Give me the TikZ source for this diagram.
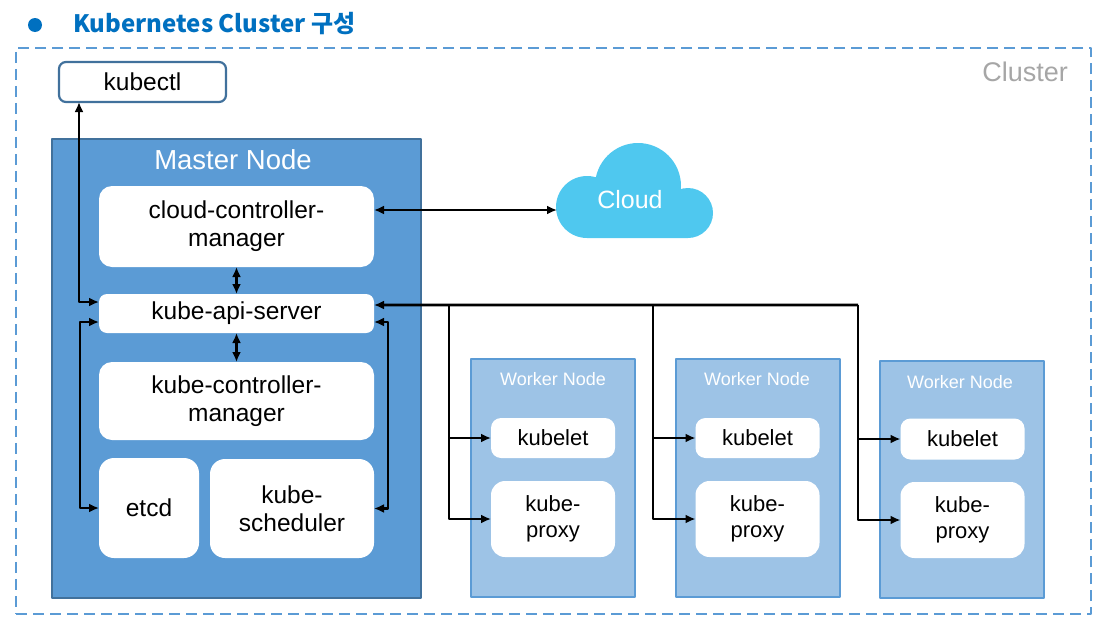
\documentclass[tikz,border=0pt]{standalone}
\usepackage{fontspec}
\usetikzlibrary{arrows.meta}
\setmainfont{Liberation Sans}
\newfontfamily\krfont{Noto Sans CJK KR}
\definecolor{titleblue}{HTML}{0070C0}
\definecolor{clusterline}{HTML}{5B9BD5}
\definecolor{clustertext}{HTML}{A6A6A6}
\definecolor{masterfill}{HTML}{5B9BD5}
\definecolor{masterline}{HTML}{41719C}
\definecolor{workerfill}{HTML}{9DC3E6}
\definecolor{workerline}{HTML}{5B9BD5}
\definecolor{cloudfill}{HTML}{4FC8EF}
\begin{document}
\begin{tikzpicture}[>={Latex[length=10bp,width=9bp]},line join=bevel,
  box/.style={fill=white,draw=none,rounded corners=10bp,inner sep=0pt,outer sep=0pt,align=center,font=\fontsize{24.5bp}{28bp}\selectfont},
  wbox/.style={box,font=\fontsize{22bp}{26bp}\selectfont},
  worker/.style={fill=workerfill,draw=workerline,line width=2.5bp,inner sep=0pt,outer sep=0pt,minimum width=164bp,minimum height=238bp},
  wtitle/.style={text=white,font=\fontsize{18bp}{20bp}\selectfont},
  link/.style={black,line width=2.6bp},
]
\useasboundingbox (0bp,0bp) rectangle (1103bp,-626bp);
%%
\fill[titleblue] (35bp,-25bp) circle (7bp);
\node (node_title) at (73bp,-24bp) [anchor=west,inner sep=0pt,text=titleblue,font=\krfont\bfseries\fontsize{24bp}{28bp}\selectfont] {Kubernetes Cluster 구성};
\node (node_cluster) at (553.5bp,-331bp) [draw=clusterline,line width=2.2bp,dash pattern=on 11bp off 6bp,minimum width=1075bp,minimum height=566bp,inner sep=0pt] {};
\node (node_cluster_title) at (1068bp,-72bp) [anchor=east,inner sep=0pt,text=clustertext,font=\fontsize{27bp}{30bp}\selectfont] {Cluster};
\node (node_kubectl) at (142.5bp,-82bp) [box,draw=masterline,line width=2.2bp,rounded corners=7bp,minimum width=167bp,minimum height=40bp] {kubectl};
%
\node (node_master) at (236.5bp,-368.5bp) [fill=masterfill,draw=masterline,line width=2.2bp,minimum width=369bp,minimum height=459bp,inner sep=0pt,outer sep=0pt] {};
\node (node_master_title) at (233bp,-160bp) [text=white,font=\fontsize{27.5bp}{30bp}\selectfont] {Master Node};
\node (node_ccm) at (236.5bp,-226.5bp) [box,rounded corners=13bp,minimum width=275bp,minimum height=81bp] {cloud-controller-\\manager};
\node (node_api) at (236.5bp,-313.5bp) [box,rounded corners=8bp,minimum width=275bp,minimum height=39bp] {kube-api-server};
\node (node_kcm) at (236.5bp,-401bp) [box,rounded corners=13bp,minimum width=275bp,minimum height=78bp] {kube-controller-\\manager};
\node (node_etcd) at (149bp,-508bp) [box,rounded corners=15bp,minimum width=100bp,minimum height=100bp] {etcd};
\node (node_sched) at (292bp,-508.5bp) [box,rounded corners=15bp,minimum width=164bp,minimum height=99bp] {kube-\\scheduler};
%
\node (node_worker_a) at (553bp,-478bp) [worker] {};
\node (node_worker_b) at (758bp,-478bp) [worker] {};
\node (node_worker_c) at (962bp,-479.5bp) [worker,minimum height=237bp] {};
\node (node_wtitle_a) at (553bp,-379bp) [wtitle] {Worker Node};
\node (node_wtitle_b) at (757bp,-379bp) [wtitle] {Worker Node};
\node (node_wtitle_c) at (960bp,-382bp) [wtitle] {Worker Node};
\node (node_kubelet_a) at (553bp,-438bp) [wbox,minimum width=124bp,minimum height=40bp] {kubelet};
\node (node_kubelet_b) at (757.5bp,-438bp) [wbox,minimum width=124bp,minimum height=40bp] {kubelet};
\node (node_kubelet_c) at (962.5bp,-439bp) [wbox,minimum width=124bp,minimum height=41bp] {kubelet};
\node (node_proxy_a) at (553bp,-519bp) [wbox,rounded corners=14bp,minimum width=124bp,minimum height=76bp] {kube-\\proxy};
\node (node_proxy_b) at (757.5bp,-519bp) [wbox,rounded corners=14bp,minimum width=124bp,minimum height=76bp] {kube-\\proxy};
\node (node_proxy_c) at (962.5bp,-520bp) [wbox,rounded corners=14bp,minimum width=124bp,minimum height=76bp] {kube-\\proxy};
%
\fill[cloudfill] (638bp,-186bp) circle (43bp) (587bp,-207bp) circle (31bp) (688bp,-213bp) circle (25bp) (587bp,-200bp) rectangle (688bp,-238bp);
\node (node_cloud) at (630bp,-200bp) [text=white,font=\fontsize{25bp}{28bp}\selectfont] {Cloud};
\coordinate (coord_cloud) at (557bp,-210bp);
\coordinate (bus_a) at (449bp,-305bp);
\coordinate (bus_b) at (653bp,-305bp);
\coordinate (bus_c) at (858bp,-305bp);
%
\draw [link,<->] ([xshift=-63.5bp]node_kubectl.south) |- ([yshift=11.5bp]node_api.west);
\draw [link,<->] ([yshift=-8.5bp]node_api.west) -- ++(-19bp,0bp) |- (node_etcd.west);
\draw [link,<->] ([yshift=-8.5bp]node_api.east) -- ++(14bp,0bp) |- (node_sched.east);
\draw [link,<->] (node_ccm) -- (node_api);
\draw [link,<->] (node_api) -- (node_kcm);
\draw [link,<->] ([yshift=16.5bp]node_ccm.east) -- (coord_cloud);
\draw [link,<-] ([yshift=8.5bp]node_api.east) -- (bus_c);
\draw [link,->] (bus_a) |- (node_kubelet_a.west);
\draw [link,->] (bus_a) |- (node_proxy_a.west);
\draw [link,->] (bus_b) |- (node_kubelet_b.west);
\draw [link,->] (bus_b) |- (node_proxy_b.west);
\draw [link,->] (bus_c) |- (node_kubelet_c.west);
\draw [link,->] (bus_c) |- (node_proxy_c.west);
%
\end{tikzpicture}
\end{document}
